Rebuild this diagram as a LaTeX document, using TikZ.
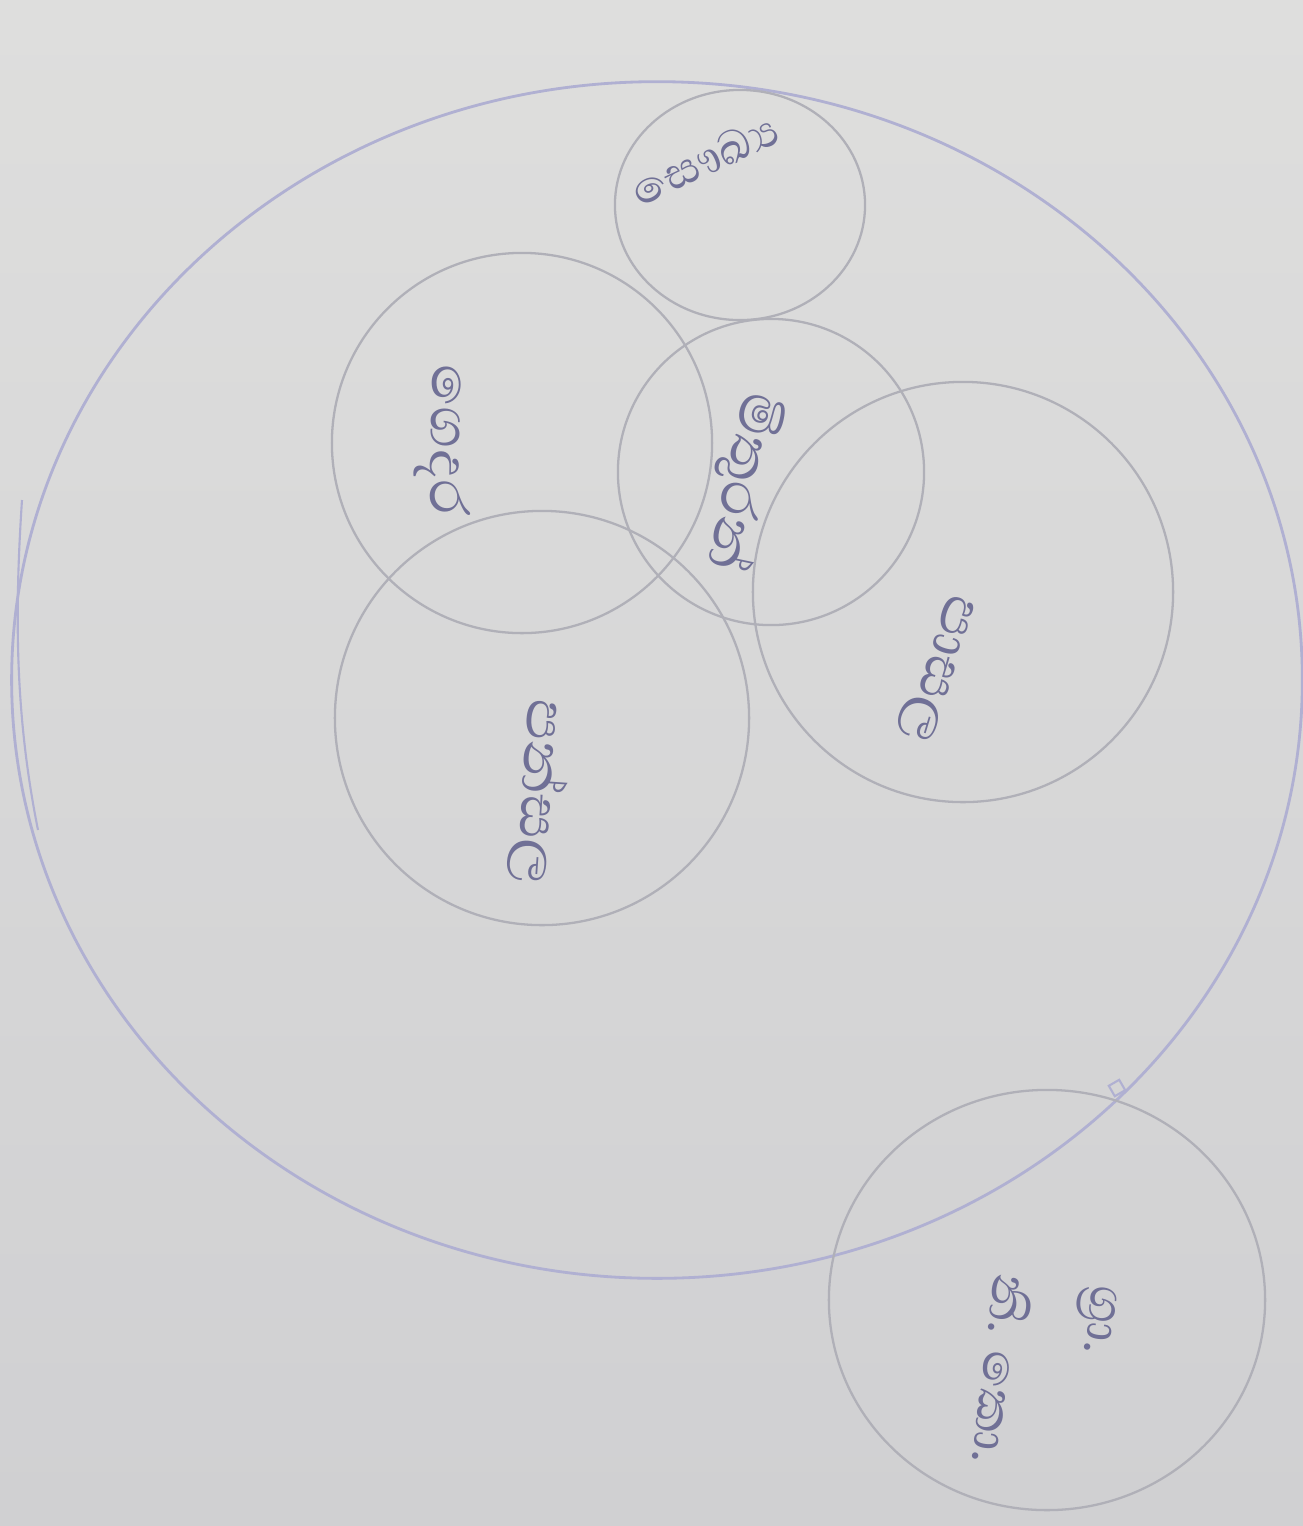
\documentclass[tikz,border=0pt]{standalone}
\usepackage{fontspec}
\newfontfamily\sinfont[Script=Sinhala]{Abhaya Libre}
\definecolor{paper}{RGB}{222,222,221}
\definecolor{paperdark}{RGB}{208,208,210}
\definecolor{pencil}{RGB}{176,176,184}
\definecolor{lavender}{RGB}{176,176,210}
\definecolor{ink}{RGB}{112,112,150}
\tikzset{
  ring/.style={draw=pencil, line width=0.65pt},
  outerring/.style={draw=lavender, line width=0.8pt},
  word/.style={text=ink, font=\sinfont\fontsize{20}{30}\selectfont, inner sep=0pt, align=left},
}
\begin{document}
\begin{tikzpicture}[x=0.01cm,y=-0.01cm]
\useasboundingbox (0,0) rectangle (1303,1526);
\shade[top color=paper, bottom color=paperdark] (0,0) rectangle (1303,1526);
% big outer circle
\draw[outerring] (657,680) ellipse [x radius=6.45cm, y radius=5.98cm];
% faint double edge on the left
\draw[draw=lavender, line width=0.6pt] (22,500) .. controls (14,620) and (16,720) .. (38,830);
% inner circles
\draw[ring] (740,205) ellipse [x radius=1.25cm, y radius=1.15cm];
\draw[ring] (522,443) circle [radius=1.9cm];
\draw[ring] (771,472) circle [radius=1.53cm];
\draw[ring] (963,592) circle [radius=2.1cm];
\draw[ring] (542,718) circle [radius=2.07cm];
\draw[ring] (1047,1300) ellipse [x radius=2.18cm, y radius=2.1cm];
% small mark where outer circle meets the lower circle
\draw[draw=lavender, line width=0.6pt, rotate around={30:(1117,1088)}] (1111,1082) rectangle (1123,1094);
% labels
\node[word, rotate=25, font=\sinfont\fontsize{16}{20}\selectfont] (top) at (705,160) {සෞඛ්‍ය};
\node[word, rotate=-91] (home) at (443,440) {ගෙදර};
\node[word, rotate=-102] (mid) at (742,482) {මිතුරන්};
\node[word, rotate=-107] (school) at (935,668) {පාසල};
\node[word, rotate=-94] (temple) at (540,792) {පන්සල};
\node[word, rotate=-97, font=\sinfont\fontsize{18}{28}\selectfont] (office) at (1045,1375) {ග්‍රා.\\නි. කො.};
\end{tikzpicture}
\end{document}
